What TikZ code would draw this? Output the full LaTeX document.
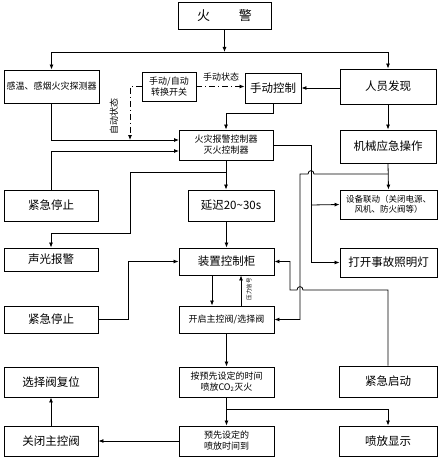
\documentclass[tikz,border=0pt]{standalone}
\usepackage{fontspec}
\setmainfont{Noto Sans CJK SC}
\usetikzlibrary{arrows.meta}
\begin{document}
\begin{tikzpicture}[x=1pt,y=-1pt,
  box/.style={draw, line width=0.9pt, align=center, inner sep=0pt},
  ar/.style={-{Latex[length=5pt,width=4pt]}, line width=0.8pt},
  ln/.style={line width=0.8pt},
  dd/.style={dash pattern=on 6pt off 3pt on 1pt off 3pt},
  fa/.style={font=\fontsize{13}{15}\selectfont},
  fb/.style={font=\fontsize{11.5}{13}\selectfont},
  fc/.style={font=\fontsize{9}{11}\selectfont},
  fd/.style={font=\fontsize{8.5}{10.5}\selectfont},
  fe/.style={font=\fontsize{5.5}{6}\selectfont}]
\useasboundingbox (0,0) rectangle (441,460);
% boxes
\node[box,fa,minimum width=93pt,minimum height=27pt] (fire) at (224.5,15.5) {火\hspace{2.2em}警};
\node[box,fc,minimum width=95pt,minimum height=33pt] (det) at (51.5,86.5) {感温、感烟火灾探测器};
\node[box,fc,minimum width=54pt,minimum height=29pt] (sw) at (169,86.5) {手动/自动\\转换开关};
\node[box,fb,minimum width=56pt,minimum height=30pt] (man) at (273,88) {手动控制};
\node[box,fb,minimum width=96pt,minimum height=35pt] (peo) at (388,86.5) {人员发现};
\node[box,fc,minimum width=94pt,minimum height=30pt] (ctl) at (226,145) {火灾报警控制器\\灭火控制器};
\node[box,fb,minimum width=96pt,minimum height=33pt] (mech) at (388,146.5) {机械应急操作};
\node[box,fb,minimum width=94pt,minimum height=31pt] (stop1) at (51,205.5) {紧急停止};
\node[box,fb,minimum width=86pt,minimum height=31pt] (delay) at (231,205.5) {延迟20\textasciitilde30s};
\node[box,fd,minimum width=97pt,minimum height=29pt] (dev) at (388.5,204.5) {设备联动（关闭电源、\\风机、防火阀等）};
\node[box,fb,minimum width=94pt,minimum height=23pt] (alarm) at (51,259.5) {声光报警};
\node[box,fb,minimum width=95pt,minimum height=27pt] (cab) at (226.5,261.5) {装置控制柜};
\node[box,fb,minimum width=97pt,minimum height=29pt] (light) at (388.5,262.5) {打开事故照明灯};
\node[box,fb,minimum width=94pt,minimum height=27pt] (stop2) at (51,319.5) {紧急停止};
\node[box,fc,minimum width=95pt,minimum height=27pt] (valve) at (226.5,319.5) {开启主控阀/选择阀};
\node[box,fb,minimum width=94pt,minimum height=30pt] (reset) at (51,382) {选择阀复位};
\node[box,fc,minimum width=95pt,minimum height=30pt] (spray) at (226.5,382) {按预先设定的时间\\喷放CO\textsubscript{2}灭火};
\node[box,fb,minimum width=98pt,minimum height=31pt] (estart) at (388,381.5) {紧急启动};
\node[box,fb,minimum width=94pt,minimum height=30pt] (close) at (51,441) {关闭主控阀};
\node[box,fc,minimum width=95pt,minimum height=30pt] (time) at (226.5,441) {预先设定的\\喷放时间到};
\node[box,fb,minimum width=98pt,minimum height=30pt] (disp) at (388,441) {喷放显示};
% labels
\node[fc] (lman) at (221,77) {手动状态};
\node[fc,rotate=90] (laut) at (114,116) {自动状态};
\node[fe,rotate=90] (lpre) at (249,289) {压力信号};
% coordinates
\coordinate (j1) at (224.5,52);
\coordinate (cin1) at (179,140);
\coordinate (cin2) at (179,151);
\coordinate (aut) at (130,140);
\coordinate (b1) at (226,172);
\coordinate (b2) at (130,233);
\coordinate (r1) at (311,145);
\coordinate (r2) at (311,205);
\coordinate (m1) at (388,174);
\coordinate (s1) at (226.5,409);
% connectors
\draw[ar] (fire.south) -- (j1);
\draw[ar] (j1) -| (det.north);
\draw[ar] (j1) -| (peo.north);
\draw[ar] (man.east -| peo.west) -- (man.east);
\draw[ar,dd] (sw.east) -- (sw.east -| man.west);
\draw[ar,dd] (sw.west) -| (aut);
\draw[ar] (det.south) |- (cin1);
\draw[ar] (stop1.north) |- (cin2);
\draw[ar] (man.south) -- ++(0,10) -| (ctl.north);
\draw[ar] (peo.south) -- (mech.north);
\draw[ar] (mech.south) -- (dev.north);
\draw[ar] (ctl.south) -- (ctl.south |- delay.north);
\draw[ar] (b1) -| (b2) -| (alarm.north);
\draw[ar] (ctl.east) -| (311,262.5) -- (light.west);
\draw[ar] (r2) -- (dev.west);
\draw[ar] (m1) -- (314,174) .. controls (314,169.5) and (308,169.5) .. (308,174) -- (300,174) -- (300,319.5) -- (valve.east);
\draw[ar] (estart.north) -- (388,290) -- (303,290) .. controls (303,285.5) and (297,285.5) .. (297,290) -- (290,290) -- (290,261.5) -- (cab.east);
\draw[ar] (cab.north |- delay.south) -- (cab.north);
\draw[ar] (stop2.east) -| (128,261.5) -- (cab.west);
\draw[ar] ([xshift=-14.5pt]cab.south) -- ([xshift=-14.5pt]valve.north);
\draw[ar] ([xshift=14.5pt]valve.north) -- ([xshift=14.5pt]cab.south);
\draw[ar] (valve.south) -- (spray.north);
\draw[ar] (spray.south) -- (time.north);
\draw[ar] (s1) -| (disp.north);
\draw[ar] (time.west) -- (close.east);
\draw[ar] (close.north) -- (reset.south);
\end{tikzpicture}
\end{document}
